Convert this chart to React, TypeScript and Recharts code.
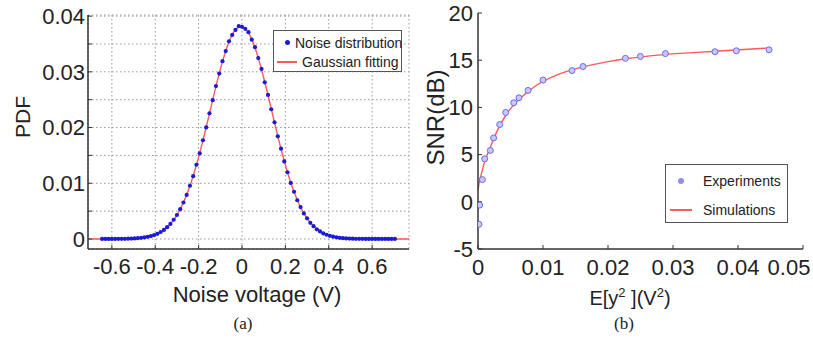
import {
  ComposedChart, Scatter, Line, XAxis, YAxis, CartesianGrid, Legend, Label,
} from 'recharts'

// (a) noise voltage histogram, V
const noiseV = [
  -0.645, -0.63, -0.615, -0.6, -0.585, -0.57, -0.555, -0.54, -0.525, -0.51,
  -0.495, -0.48, -0.465, -0.45, -0.435, -0.42, -0.405, -0.39, -0.375, -0.36,
  -0.345, -0.33, -0.315, -0.3, -0.285, -0.27, -0.255, -0.24, -0.225, -0.21,
  -0.195, -0.18, -0.165, -0.15, -0.135, -0.12, -0.105, -0.09, -0.075, -0.06,
  -0.045, -0.03, -0.015, 0, 0.015, 0.03, 0.045, 0.06, 0.075, 0.09,
  0.105, 0.12, 0.135, 0.15, 0.165, 0.18, 0.195, 0.21, 0.225, 0.24,
  0.255, 0.27, 0.285, 0.3, 0.315, 0.33, 0.345, 0.36, 0.375, 0.39,
  0.405, 0.42, 0.435, 0.45, 0.465, 0.48, 0.495, 0.51, 0.525, 0.54,
  0.555, 0.57, 0.585, 0.6, 0.615, 0.63, 0.645, 0.66, 0.675, 0.69, 0.705,
]
const noisePdf = [
  0, 0, 0, 0.00001, 0.00001, 0.00002, 0.00002, 0.00003, 0.00005, 0.00007,
  0.0001, 0.00014, 0.0002, 0.00028, 0.00038, 0.00052, 0.0007, 0.00093, 0.00125, 0.00163,
  0.00212, 0.0027, 0.00345, 0.0043, 0.00535, 0.00655, 0.0079, 0.00955, 0.01128, 0.01332,
  0.01538, 0.01772, 0.02002, 0.02256, 0.02492, 0.02745, 0.02968, 0.03192, 0.03372, 0.03548,
  0.03662, 0.03752, 0.03822, 0.03808, 0.03772, 0.03712, 0.03578, 0.03442, 0.03246, 0.03052,
  0.02812, 0.02585, 0.02328, 0.02094, 0.01842, 0.0162, 0.01392, 0.01198, 0.01006, 0.00848,
  0.00695, 0.00573, 0.00458, 0.0037, 0.00289, 0.00229, 0.00174, 0.00135, 0.001, 0.00076,
  0.00056, 0.00042, 0.00029, 0.00021, 0.00015, 0.0001, 0.00007, 0.00005, 0.00003, 0.00002,
  0.00002, 0.00001, 0.00001, 0, 0, 0, 0, 0, 0, 0, 0,
]
const fitV = [-0.71, ...noiseV, 0.77]
const fitPdf = [
  0,
  0, 0, 0, 0.00001, 0.00001, 0.00001, 0.00002, 0.00003, 0.00004, 0.00006,
  0.00009, 0.00013, 0.00019, 0.00026, 0.00037, 0.0005, 0.00068, 0.00092, 0.00122, 0.00161,
  0.00209, 0.00268, 0.00341, 0.00428, 0.00532, 0.00653, 0.00793, 0.00952, 0.01131, 0.01327,
  0.01541, 0.01768, 0.02006, 0.02251, 0.02497, 0.02739, 0.02971, 0.03185, 0.03377, 0.0354,
  0.03669, 0.0376, 0.0381, 0.03818, 0.03782, 0.03704, 0.03587, 0.03435, 0.03252, 0.03044,
  0.02818, 0.02579, 0.02333, 0.02088, 0.01847, 0.01615, 0.01397, 0.01194, 0.0101, 0.00844,
  0.00698, 0.0057, 0.00461, 0.00368, 0.00291, 0.00227, 0.00175, 0.00134, 0.00101, 0.00075,
  0.00056, 0.00041, 0.00029, 0.00021, 0.00015, 0.0001, 0.00007, 0.00005, 0.00003, 0.00002,
  0.00002, 0.00001, 0.00001, 0, 0, 0, 0, 0, 0, 0, 0,
  0,
]
const voltTicks = [-0.6, -0.4, -0.2, 0, 0.2, 0.4, 0.6]
const pdfTicks = [0, 0.005, 0.01, 0.015, 0.02, 0.025, 0.03, 0.035, 0.04]

// (b) SNR vs signal energy
const expEnergy = [
  0.00015, 0.00026, 0.00068, 0.00103, 0.0019, 0.0024, 0.00334, 0.00426, 0.0055, 0.0063,
  0.0077, 0.01, 0.01446, 0.01615, 0.02268, 0.02498, 0.02883, 0.03646, 0.03975, 0.04477,
]
const expSnr = [
  -2.38, -0.35, 2.35, 4.55, 5.44, 6.76, 8.18, 9.46, 10.49, 11.02,
  11.8, 12.9, 13.9, 14.33, 15.2, 15.4, 15.7, 15.9, 16.0, 16.1,
]
const simEnergy = [0, 0.0002, 0.0005, 0.001, 0.0018, 0.0028, 0.0044, 0.0064, 0.009, 0.012, 0.0162, 0.02, 0.0227, 0.0288, 0.0365, 0.0448]
const simSnr = [1.17, 2.1, 2.9, 4.2, 5.6, 7.3, 9.3, 10.9, 12.35, 13.4, 14.3, 14.85, 15.15, 15.6, 15.95, 16.3]
const energyTicks = [0, 0.01, 0.02, 0.03, 0.04, 0.05]
const snrTicks = [-5, 0, 5, 10, 15, 20]

const VOLT_DOMAIN: [number, number] = [-0.71, 0.77]
const PDF_DOMAIN: [number, number] = [-0.0018, 0.0402]
const ENERGY_DOMAIN: [number, number] = [0, 0.05]
const SNR_DOMAIN: [number, number] = [-5, 20]

const noisePoints = noiseV.map((x, i) => ({ x, y: noisePdf[i] }))
const fitPoints = fitV.map((x, i) => ({ x, y: fitPdf[i] }))
const expPoints = expEnergy.map((x, i) => ({ x, y: expSnr[i] }))
const simPoints = simEnergy.map((x, i) => ({ x, y: simSnr[i] }))

const FONT = '"Liberation Sans", Arial, sans-serif'
const SERIF = '"Liberation Serif", "Times New Roman", serif'
const INK = '#222'
const FRAME = '#333'
const RED = '#ff5a5a'
const GRID = '#999'

const tickStyle = { fontSize: 22, fill: INK, fontFamily: FONT }
const frameLine = { stroke: FRAME, strokeWidth: 1.5 }

const fmtVolt = (v: number) => String(Math.round(v * 10) / 10)
const fmtPdf = (v: number) => (Math.abs(v * 100 - Math.round(v * 100)) < 1e-6 ? String(Math.round(v * 100) / 100) : '')

const noiseDot = (p: any) => <circle cx={p.cx} cy={p.cy} r={2.1} fill="#1a1ad8" />
const expDot = (p: any) => <circle cx={p.cx} cy={p.cy} r={3} fill="#c8c8ff" stroke="#6b6bea" strokeWidth={1} />

const energyTick = (p: any) => {
  const v = p.payload.value
  return (
    <text x={v === 0.05 ? p.x - 14 : p.x} y={p.y} dy="0.71em" textAnchor="middle" {...tickStyle}>
      {String(v)}
    </text>
  )
}

// legend entries come sorted by name, so pick them by icon type
const nameOf = (payload: any[], type: string, fallback: string) =>
  (payload || []).find((e: any) => e.type === type)?.value ?? fallback

const legendRow = (top: number, left: number, text: string, icon: any) => (
  <div key={text} style={{ position: 'absolute', top: top - 9, left: 0, width: '100%', height: 18 }}>
    {icon}
    <span style={{ position: 'absolute', left, top: 0, lineHeight: '18px', whiteSpace: 'nowrap' }}>{text}</span>
  </div>
)

function NoiseLegend({ payload }: any) {
  return (
    <div style={{ position: 'relative', width: 129, height: 42, boxSizing: 'border-box', border: '1px solid #555', background: '#fff', fontFamily: FONT, fontSize: 14, color: INK }}>
      {legendRow(12, 21, nameOf(payload, 'circle', 'Noise distribution'),
        <span style={{ position: 'absolute', left: 11, top: 6, width: 5, height: 5, borderRadius: 3, background: '#1a1ad8' }} />)}
      {legendRow(31, 28, nameOf(payload, 'line', 'Gaussian fitting'),
        <span style={{ position: 'absolute', left: 3, top: 8, width: 20, height: 2, background: RED }} />)}
    </div>
  )
}

function SnrLegend({ payload }: any) {
  return (
    <div style={{ position: 'relative', width: 123, height: 59, boxSizing: 'border-box', border: '1px solid #555', background: '#fff', fontFamily: FONT, fontSize: 14, color: INK }}>
      {legendRow(16, 37, nameOf(payload, 'circle', 'Experiments'),
        <span style={{ position: 'absolute', left: 12, top: 6, width: 6, height: 6, borderRadius: 3, background: '#8e8ef8' }} />)}
      {legendRow(45, 37, nameOf(payload, 'line', 'Simulations'),
        <span style={{ position: 'absolute', left: 4, top: 8, width: 22, height: 1.5, background: RED }} />)}
    </div>
  )
}

const voltLabel = ({ viewBox }: any) => {
  const cx = viewBox.x + viewBox.width / 2
  return (
    <g>
      <text x={cx + 8.5} y={viewBox.y + 53} textAnchor="middle" fontSize={22} fill={INK} fontFamily={FONT}>Noise voltage (V)</text>
      <text x={cx - 5.5} y={viewBox.y + 80} textAnchor="middle" fontSize={17} fill={INK} fontFamily={SERIF}>(a)</text>
    </g>
  )
}

const energyLabel = ({ viewBox }: any) => {
  const cx = viewBox.x + viewBox.width / 2
  return (
    <g>
      <text x={cx - 10.5} y={viewBox.y + 56} textAnchor="middle" fontSize={20} fill={INK} fontFamily={FONT}>
        E[y<tspan dy={-8} fontSize={13}>2</tspan><tspan dy={8}> ](V</tspan><tspan dy={-8} fontSize={13}>2</tspan><tspan dy={8}>)</tspan>
      </text>
      <text x={cx - 16.5} y={viewBox.y + 80} textAnchor="middle" fontSize={17} fill={INK} fontFamily={SERIF}>(b)</text>
    </g>
  )
}

const yLabel = (text: string, dx: number, dy: number, size: number) => ({ viewBox }: any) => {
  const x = viewBox.x + dx
  const y = viewBox.y + dy
  return (
    <text x={x} y={y} transform={`rotate(-90, ${x}, ${y})`} textAnchor="middle" dominantBaseline="central" fontSize={size} fill={INK} fontFamily={FONT}>
      {text}
    </text>
  )
}

function NoiseChart() {
  return (
    <ComposedChart width={420} height={340} margin={{ top: 15, right: 11, bottom: 61, left: 0 }}>
      <CartesianGrid stroke={GRID} strokeDasharray="1.5 2.5" strokeWidth={1} />
      <XAxis
        type="number" dataKey="x" domain={VOLT_DOMAIN} ticks={voltTicks} allowDataOverflow interval={0}
        tickFormatter={fmtVolt} height={30} tickSize={-4} tickMargin={13} tick={tickStyle}
        axisLine={frameLine} tickLine={{ stroke: FRAME }}
      >
        <Label content={voltLabel} />
      </XAxis>
      <XAxis xAxisId="top" orientation="top" type="number" domain={VOLT_DOMAIN} ticks={voltTicks} allowDataOverflow
        height={0} tick={false} tickLine={false} axisLine={frameLine} />
      <YAxis
        type="number" domain={PDF_DOMAIN} ticks={pdfTicks} allowDataOverflow interval={0}
        tickFormatter={fmtPdf} width={88} tickSize={-4} tickMargin={7} tick={tickStyle}
        axisLine={frameLine} tickLine={{ stroke: FRAME }}
      >
        <Label content={yLabel('PDF', 22, 102, 21)} />
      </YAxis>
      <YAxis yAxisId="right" orientation="right" type="number" domain={PDF_DOMAIN} ticks={pdfTicks} allowDataOverflow
        width={0} tick={false} tickLine={false} axisLine={frameLine} />
      <Scatter data={noisePoints} dataKey="y" name="Noise distribution" shape={noiseDot} legendType="circle" isAnimationActive={false} />
      <Line data={fitPoints} dataKey="y" name="Gaussian fitting" type="linear" stroke={RED} strokeWidth={1.4} dot={false} legendType="line" isAnimationActive={false} />
      <Legend layout="vertical" align="center" verticalAlign="middle" width={129} height={42}
        wrapperStyle={{ left: 273, top: 30, width: 129, height: 42 }} content={<NoiseLegend />} />
    </ComposedChart>
  )
}

function SnrChart() {
  return (
    <ComposedChart width={393} height={340} margin={{ top: 13, right: 10, bottom: 61, left: 0 }}>
      <XAxis
        type="number" dataKey="x" domain={ENERGY_DOMAIN} ticks={energyTicks} allowDataOverflow interval={0}
        height={30} tickSize={-4} tickMargin={14} tick={energyTick}
        axisLine={frameLine} tickLine={{ stroke: FRAME }}
      >
        <Label content={energyLabel} />
      </XAxis>
      <XAxis xAxisId="top" orientation="top" type="number" domain={ENERGY_DOMAIN} ticks={energyTicks} allowDataOverflow
        height={0} tick={false} tickLine={false} axisLine={frameLine} />
      <YAxis
        type="number" domain={SNR_DOMAIN} ticks={snrTicks} allowDataOverflow interval={0}
        width={58} tickSize={-4} tickMargin={9} tick={tickStyle}
        axisLine={frameLine} tickLine={{ stroke: FRAME }}
      >
        <Label content={yLabel('SNR(dB)', 15, 104.5, 24)} />
      </YAxis>
      <YAxis yAxisId="right" orientation="right" type="number" domain={SNR_DOMAIN} ticks={snrTicks} allowDataOverflow
        width={0} tick={false} tickLine={false} axisLine={frameLine} />
      <Scatter data={expPoints} dataKey="y" name="Experiments" shape={expDot} legendType="circle" isAnimationActive={false} />
      <Line data={simPoints} dataKey="y" name="Simulations" type="monotone" stroke={RED} strokeWidth={1.4} dot={false} legendType="line" isAnimationActive={false} />
      <Legend layout="vertical" align="center" verticalAlign="middle" width={123} height={59}
        wrapperStyle={{ left: 245, top: 164, width: 123, height: 59 }} content={<SnrLegend />} />
    </ComposedChart>
  )
}

export default function App() {
  return (
    <div style={{ position: 'absolute', left: 0, top: 0, width: 813, height: 340, background: '#fff' }}>
      <div style={{ position: 'absolute', left: 0, top: 0 }}>
        <NoiseChart />
      </div>
      <div style={{ position: 'absolute', left: 420, top: 0 }}>
        <SnrChart />
      </div>
    </div>
  )
}
